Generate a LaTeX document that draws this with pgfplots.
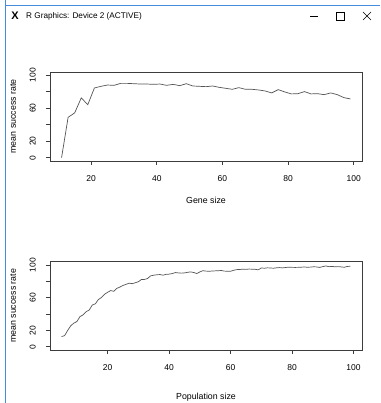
\documentclass[border=0pt]{standalone}
\usepackage{pgfplots}
\pgfplotsset{compat=1.18}
\usepackage{pgfplotstable}
\usepackage{fontspec}
\setmainfont{Liberation Sans}
\definecolor{axgray}{RGB}{60,60,60}
\definecolor{linegray}{RGB}{85,85,85}
\definecolor{winblue}{RGB}{70,140,220}

\pgfplotstableread{
x y
11 0
13 49
15 54.4
17 72.5
19 64.4
21 84.6
23 86.6
25 88.2
27 87.8
29 90.2
31 90.2
33 89.8
35 89.4
37 89.4
39 89.0
41 89.4
43 87.8
45 89.0
47 87.4
49 89.8
51 87.0
53 86.6
55 86.2
57 87.0
59 85.4
61 84.2
63 83.0
65 85.0
67 83.0
69 83.0
71 82.2
73 81.0
75 78.6
77 82.6
79 79.8
81 77.4
83 77.7
85 80.2
87 77.4
89 77.7
91 76.5
93 78.6
95 76.5
97 72.9
99 71.3
}\genedata

\pgfplotstableread{
x y
5 12.4
6 13.6
7 20.0
8 25.7
9 28.9
10 30.8
11 36.9
12 38.9
13 42.9
14 44.9
15 51.0
16 52.5
17 57.8
18 60.2
19 64.2
20 66.6
21 68.7
22 67.8
23 71.4
24 73.0
25 75.0
26 76.3
27 77.8
28 77.1
29 78.3
30 79.5
31 82.3
32 82.3
33 83.5
34 86.7
35 87.5
36 88.0
37 88.3
38 87.5
39 88.5
40 88.8
41 89.5
42 90.7
43 90.3
44 90.0
45 90.3
46 91.0
47 91.5
48 90.8
49 89.5
50 91.5
51 93.0
52 92.5
53 92.3
54 92.6
55 92.8
56 93.0
57 93.2
58 92.5
59 92.3
60 92.3
61 93.5
62 94.3
63 94.5
64 94.8
65 94.6
66 95.0
67 94.8
68 94.7
69 94.0
70 96.4
71 96.0
72 96.5
73 96.3
74 96.0
75 96.6
76 96.8
77 96.4
78 97.0
79 97.2
80 97.1
81 97.0
82 97.1
83 97.3
84 97.5
85 97.2
86 97.4
87 97.8
88 97.6
89 97.0
90 98.0
91 98.8
92 97.9
93 98.2
94 97.8
95 98.0
96 97.6
97 97.2
98 98.2
99 98.4
}\popdata

\pgfplotsset{rstyle/.style={
  scale only axis, anchor=south west, width=312pt,
  axis line style={draw=axgray, line width=0.6pt},
  tick align=outside, tick pos=left, major tick length=4pt,
  tick style={draw=axgray, line width=0.6pt},
  /pgf/number format/assume math mode=true,
  ticklabel style={font=\fontsize{8.5}{10}\selectfont, text=black},
  xticklabel style={inner ysep=10pt},
  yticklabel style={rotate=90, anchor=south, inner ysep=10pt},
  xtick={20,40,60,80,100},
  ytick={0,20,40,60,80,100},
  yticklabels={0,20,,60,,100},
  ymin=-4, ymax=104,
  clip=false,
}}

\begin{document}
\begin{tikzpicture}[x=1pt,y=1pt]
\path[use as bounding box, fill=white] (0,0) rectangle (380,403);
% window chrome
\draw[winblue, line width=0.9pt] (5,403) -- (5,398) -- (380,398);
\draw[winblue, line width=0.9pt] (5,398) -- (5,0);
\node[font=\bfseries\fontsize{11}{11}\selectfont, inner sep=0] at (15,387) {X};
\node[anchor=west, font=\fontsize{8.2}{9}\selectfont, inner sep=0] at (26,387) {R Graphics: Device 2 (ACTIVE)};
\draw[black, line width=0.5pt] (310,387) -- (318,387);
\draw[black, line width=0.5pt] (336,383) rectangle (344,391);
\draw[black, line width=0.5pt] (363,383) -- (371,391);
\draw[black, line width=0.5pt] (363,391) -- (371,383);

\begin{axis}[rstyle, at={(50pt,242pt)}, height=89pt, xmin=7.48, xmax=102.52]
\addplot[draw=linegray, line width=0.7pt, mark=none] table[x=x,y=y] {\genedata};
\coordinate (TL) at (rel axis cs:0,0.5);
\coordinate (TB) at (rel axis cs:0.5,0);
\end{axis}
\node[rotate=90, font=\fontsize{8.8}{10}\selectfont] at ([xshift=-37pt]TL) {mean success rate};
\node[font=\fontsize{8.8}{10}\selectfont] at ([yshift=-39pt]TB) {Gene size};

\begin{axis}[rstyle, at={(50pt,53pt)}, height=88.3pt, xmin=1.24, xmax=102.76]
\addplot[draw=linegray, line width=0.7pt, mark=none] table[x=x,y=y] {\popdata};
\coordinate (BL) at (rel axis cs:0,0.5);
\coordinate (BB) at (rel axis cs:0.5,0);
\end{axis}
\node[rotate=90, font=\fontsize{8.8}{10}\selectfont] at ([xshift=-37pt]BL) {mean success rate};
\node[font=\fontsize{8.8}{10}\selectfont] at ([yshift=-47pt]BB) {Population size};
\end{tikzpicture}
\end{document}
